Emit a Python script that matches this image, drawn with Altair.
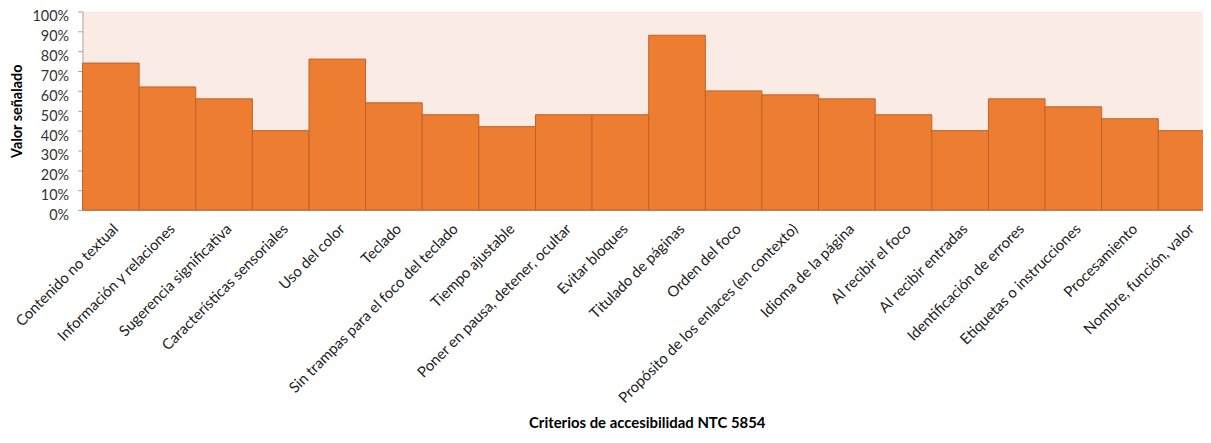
import altair as alt
import pandas as pd

categories = [
    "Contenido no textual", "Información y relaciones", "Sugerencia significativa",
    "Características sensoriales", "Uso del color", "Teclado",
    "Sin trampas para el foco del teclado", "Tiempo ajustable",
    "Poner en pausa, detener, ocultar", "Evitar bloques", "Titulado de páginas",
    "Orden del foco", "Propósito de los enlaces (en contexto)", "Idioma de la página",
    "Al recibir el foco", "Al recibir entradas", "Identificación de errores",
    "Etiquetas o instrucciones", "Procesamiento", "Nombre, función, valor",
]
values = [0.74, 0.62, 0.56, 0.40, 0.76, 0.54, 0.48, 0.42, 0.48, 0.48,
          0.88, 0.60, 0.58, 0.56, 0.48, 0.40, 0.56, 0.52, 0.46, 0.40]
y_ticks = [0, 0.1, 0.2, 0.3, 0.4, 0.5, 0.6, 0.7, 0.8, 0.9, 1.0]

df = pd.DataFrame({"criterio": categories, "valor": values})

FONT = "Lato"

chart = alt.Chart(df).mark_bar(
    fill="#ED7D31", stroke="#C0632A", strokeWidth=1
).encode(
    x=alt.X(
        "criterio:N", sort=None,
        scale=alt.Scale(paddingInner=0, paddingOuter=0, range=[0, 1140]),
        axis=alt.Axis(
            title="Criterios de accesibilidad NTC 5854",
            titleFont=FONT, titleFontSize=15, titleFontWeight="bold", titleColor="#000000",
            titleX=568, titleY=214, titleBaseline="middle", titleAnchor="middle",
            labelAngle=-45, labelAlign="right", labelBaseline="top",
            labelPadding=11, labelFont=FONT, labelFontSize=15, labelColor="#222222",
            ticks=False, domain=True, domainColor="#A6A6A6", domainWidth=1,
            labelOverlap=False, labelLimit=0,
        ),
    ),
    y=alt.Y(
        "valor:Q",
        scale=alt.Scale(domain=[0, 1], nice=False),
        axis=alt.Axis(
            title="Valor señalado", values=y_ticks, format=".0%",
            titleFont=FONT, titleFontSize=14.5, titleFontWeight="bold", titleColor="#000000",
            titleX=-65, titleY=100, titleAngle=-90, titleAlign="center", titleBaseline="middle",
            labelFont=FONT, labelFontSize=14.5, labelColor="#333333", labelPadding=9,
            labelBaseline="middle", labelOffset=5.5,
            ticks=True, tickSize=5, tickColor="#A6A6A6", domainColor="#A6A6A6",
            grid=False,
        ),
    ),
).properties(
    width=1128, height=200,
    padding={"left": 75, "top": 2, "right": 0, "bottom": 230},
    autosize=alt.AutoSizeParams(type="none"),
).configure_view(
    fill="#FBEBE5", stroke=None
)

chart.save("out.html", embed_options={"renderer": "svg", "actions": False})
